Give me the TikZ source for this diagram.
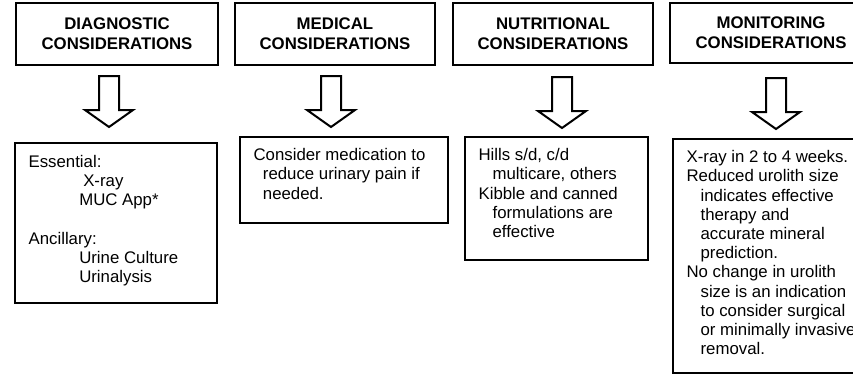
\documentclass[tikz,border=0pt]{standalone}
\usepackage{fontspec}
\setmainfont{Liberation Sans}
\usetikzlibrary{positioning}

\tikzset{
  headbox/.style={draw, line width=1.5pt, align=center, inner sep=0pt,
    font=\bfseries\fontsize{12.6}{15}\selectfont,
    minimum width=202*0.75pt, minimum height=62*0.75pt},
  bodybox/.style={draw, line width=2pt, inner sep=0pt},
  bodytext/.style={align=left, inner sep=0pt,
    font=\fontsize{12.6}{14.4}\selectfont},
  downarrow/.pic={
    \draw[line width=1.5pt, line join=miter]
      (-10,0) -- (10,0) -- (10,34) -- (24,34) -- (0,51)
      -- (-24,34) -- (-10,34) -- cycle;
  }
}

\begin{document}
\begin{tikzpicture}[x=0.75pt,y=-0.75pt]
\useasboundingbox (0,0) rectangle (853,375);

% headers
\node[headbox] (h1) at (117,34) {DIAGNOSTIC\\CONSIDERATIONS};
\node[headbox, minimum width=200*0.75pt] (h2) at (335,34) {MEDICAL\\CONSIDERATIONS};
\node[headbox, minimum width=200*0.75pt] (h3) at (553,34) {NUTRITIONAL\\CONSIDERATIONS};
\node[headbox, minimum height=60*0.75pt] (h4) at (771,33) {MONITORING\\CONSIDERATIONS};

% hollow arrows
\pic at (109,76) {downarrow};
\pic at (331,76) {downarrow};
\pic at (562,77) {downarrow};
\pic at (776,78) {downarrow};

% boxes below
\node[bodybox, minimum width=202*0.75pt, minimum height=160*0.75pt] (b1) at (116,223) {};
\node[bodybox, minimum width=208*0.75pt, minimum height=86*0.75pt] (b2) at (344,180) {};
\node[bodybox, minimum width=183*0.75pt, minimum height=123*0.75pt] (b3) at (556.5,198.5) {};
\node[bodybox, minimum width=197*0.75pt, minimum height=234*0.75pt] (b4) at (771.5,256) {};

% texts
\node[bodytext, below right=10pt and 11pt of b1.north west] (t1)
  {Essential:\\
   \hspace*{41pt}X-ray\\
   \hspace*{38pt}MUC App*\\[14.4pt]
   Ancillary:\\
   \hspace*{38pt}Urine Culture\\
   \hspace*{38pt}Urinalysis};
\node[bodytext, below right=9.5pt and 11pt of b2.north west] (t2)
  {Consider medication to\\
   \hspace*{7pt}reduce urinary pain if\\
   \hspace*{7pt}needed.};
\node[bodytext, below right=9.5pt and 11pt of b3.north west] (t3)
  {Hills s/d, c/d\\
   \hspace*{10.5pt}multicare, others\\
   Kibble and canned\\
   \hspace*{10.5pt}formulations are\\
   \hspace*{10.5pt}effective};
\node[bodytext, below right=9.5pt and 11pt of b4.north west] (t4)
  {X-ray in 2 to 4 weeks.\\
   Reduced urolith size\\
   \hspace*{10.5pt}indicates effective\\
   \hspace*{10.5pt}therapy and\\
   \hspace*{10.5pt}accurate mineral\\
   \hspace*{10.5pt}prediction.\\
   No change in urolith\\
   \hspace*{10.5pt}size is an indication\\
   \hspace*{10.5pt}to consider surgical\\
   \hspace*{10.5pt}or minimally invasive\\
   \hspace*{10.5pt}removal.};

\end{tikzpicture}
\end{document}
